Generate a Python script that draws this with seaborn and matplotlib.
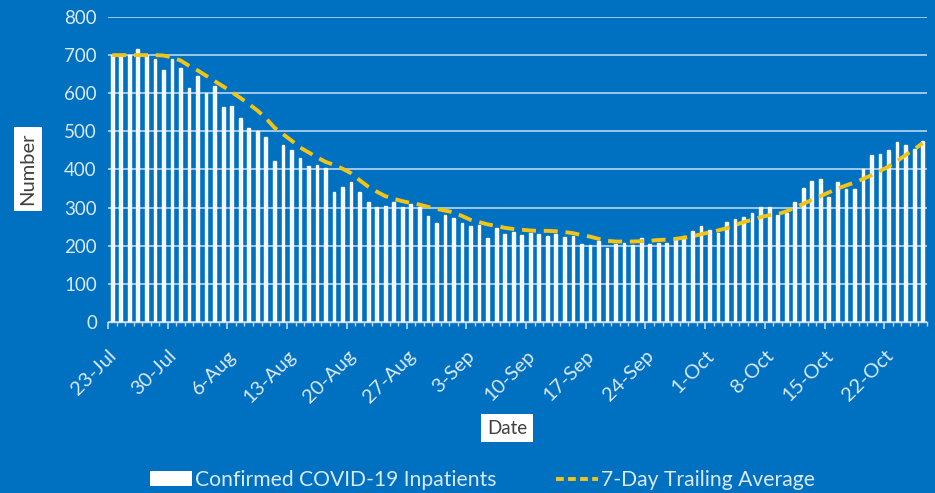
import numpy as np
import pandas as pd
import matplotlib
matplotlib.use('Agg')
import matplotlib.pyplot as plt
import matplotlib.transforms as mtransforms
import seaborn as sns
from matplotlib.patches import Patch
from matplotlib.lines import Line2D

# Dados diários: 23-Jul até 26-Oct (96 dias)
internados = [700, 700, 700, 715, 700, 690, 661, 690, 666, 615,
              645, 601, 619, 564, 567, 535, 510, 502, 486, 421,
              465, 452, 431, 409, 412, 405, 342, 354, 366, 342,
              314, 302, 305, 316, 302, 310, 301, 278, 260, 281,
              274, 260, 251, 255, 220, 246, 231, 236, 229, 233,
              230, 226, 230, 223, 226, 205, 201, 212, 194, 205,
              207, 202, 220, 204, 207, 208, 217, 225, 238, 253,
              240, 233, 261, 270, 276, 285, 302, 302, 281, 285,
              315, 351, 369, 376, 329, 368, 348, 350, 401, 438,
              440, 451, 471, 464, 454, 474]

media_7d = [700, 700, 700, 700, 700, 700, 699, 694, 686, 672,
            660, 646, 632, 618, 603, 588, 572, 555, 535, 510,
            493, 476, 458, 445, 432, 420, 412, 402, 390, 372,
            355, 342, 330, 323, 317, 312, 308, 302, 297, 292,
            288, 278, 268, 262, 256, 252, 247, 244, 242, 240,
            239, 239, 238, 236, 233, 228, 224, 218, 213, 211,
            211, 211, 212, 213, 215, 216, 218, 221, 225, 230,
            235, 240, 246, 254, 262, 268, 275, 280, 283, 290,
            300, 310, 320, 330, 340, 350, 358, 366, 375, 385,
            396, 408, 422, 438, 453, 469]

rotulos_x = ['23-Jul', '30-Jul', '6-Aug', '13-Aug', '20-Aug', '27-Aug', '3-Sep',
             '10-Sep', '17-Sep', '24-Sep', '1-Oct', '8-Oct', '15-Oct', '22-Oct']
valores_y = [0, 100, 200, 300, 400, 500, 600, 700, 800]

dados = pd.DataFrame({'dia': np.arange(len(internados)),
                      'internados': internados,
                      'media': media_7d})

# Cores
azul = '#0070C0'
texto_claro = '#D9E9F7'
amarelo = '#F2C416'

sns.set_theme(style='ticks')
plt.rcParams['font.family'] = ['Lato', 'DejaVu Sans']

fig = plt.figure(figsize=(9.35, 4.93), dpi=100, facecolor=azul)
ax = fig.add_axes([0.1155, 0.3469, 0.8759, 0.6186])
ax.set_facecolor(azul)

# Barras diárias
sns.barplot(data=dados, x='dia', y='internados', color='#EEF6FF', saturation=1,
            width=0.32, errorbar=None, ax=ax, zorder=3)

# Média móvel de 7 dias
sns.lineplot(data=dados, x='dia', y='media', color=amarelo, linewidth=2.8,
             linestyle='--', ax=ax, zorder=4)
for linha in ax.lines:
    linha.set_dashes([3.6, 2.0])

ax.set_xlim(-0.5, len(internados) - 0.5)
ax.set_ylim(0, 800)
ax.set_yticks(valores_y)
ax.set_yticklabels([str(v) for v in valores_y], color=texto_claro, fontsize=13.5)
ax.set_xticks(np.arange(0, len(internados), 7) - 0.5)
ax.set_xticklabels(rotulos_x, rotation=45, ha='right', va='top',
                   rotation_mode='anchor', color=texto_claro, fontsize=14.5)
ax.set_xticks(np.arange(len(internados) + 1) - 0.5, minor=True)

# desloca os rótulos de data um pouco para a direita
desloc = mtransforms.ScaledTranslation(0.08, 0, fig.dpi_scale_trans)
for rotulo in ax.get_xticklabels():
    rotulo.set_transform(rotulo.get_transform() + desloc)

ax.tick_params(axis='y', length=0, pad=8)
ax.tick_params(axis='x', which='major', length=5, color='#BCD6EE', pad=13)
ax.tick_params(axis='x', which='minor', length=3, color='#BCD6EE')

ax.yaxis.grid(True, color='#A8CFF0', linewidth=1.3, zorder=0)
ax.xaxis.grid(False)
ax.set_axisbelow(True)
for lado in ['top', 'right', 'left']:
    ax.spines[lado].set_visible(False)
ax.spines['bottom'].set_color('#C8DCEE')
ax.spines['bottom'].set_linewidth(1.0)

ax.set_xlabel('')
ax.set_ylabel('')

# Rótulos dos eixos em caixas brancas
fig.text(28 / 935, 1 - 169 / 493, 'Number', rotation=90, ha='center', va='center',
         color='#404040', fontsize=14.5,
         bbox=dict(facecolor='white', edgecolor='none', pad=4))
fig.text(507 / 935, 1 - 428 / 493, 'Date', ha='center', va='center',
         color='#404040', fontsize=13.5,
         bbox=dict(facecolor='white', edgecolor='none', pad=4))

# Legenda
itens = [Patch(facecolor='white', edgecolor='none'),
         Line2D([0], [0], color=amarelo, linewidth=2.8, dashes=[2.0, 1.1])]
fig.legend(itens, ['Confirmed COVID-19 Inpatients', '7-Day Trailing Average'],
           loc='center', bbox_to_anchor=(0.516, 1 - 480 / 493), ncol=2,
           frameon=False, fontsize=15.2, labelcolor=texto_claro,
           handlelength=2.0, handletextpad=0.15, columnspacing=2.8)

fig.savefig('out.png', dpi=100, facecolor=azul)
